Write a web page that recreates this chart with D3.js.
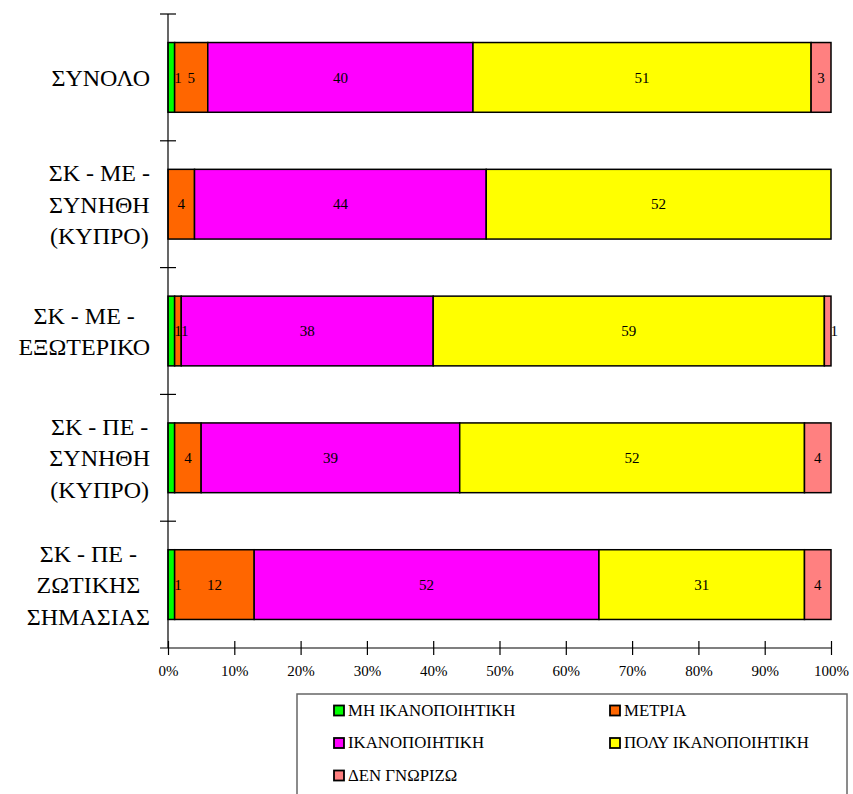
<!DOCTYPE html>
<html>
<head>
<meta charset="utf-8">
<script src="https://cdn.jsdelivr.net/npm/d3@7"></script>
<style>
  body { margin: 0; background: #fff; }
</style>
</head>
<body>
<svg id="chart" width="853" height="794"></svg>
<script>
// Survey groups (each label split into display lines)
const categories = [
  ["ΣΥΝΟΛΟ"],
  ["ΣΚ - ΜΕ -", "ΣΥΝΗΘΗ", "(ΚΥΠΡΟ)"],
  ["ΣΚ - ΜΕ -", "ΕΞΩΤΕΡΙΚΟ"],
  ["ΣΚ - ΠΕ -", "ΣΥΝΗΘΗ", "(ΚΥΠΡΟ)"],
  ["ΣΚ - ΠΕ -", "ΖΩΤΙΚΗΣ", "ΣΗΜΑΣΙΑΣ"]
];

// Response levels
const seriesNames = ["ΜΗ ΙΚΑΝΟΠΟΙΗΤΙΚΗ", "ΜΕΤΡΙΑ", "ΙΚΑΝΟΠΟΙΗΤΙΚΗ", "ΠΟΛΥ ΙΚΑΝΟΠΟΙΗΤΙΚΗ", "ΔΕΝ ΓΝΩΡΙΖΩ"];
const seriesColors = ["#00ff00", "#ff6600", "#ff00ff", "#ffff00", "#ff8080"];

// Percentages per level, one value per group
const notSatisfactory  = [1, 0, 1, 1, 1];
const moderate         = [5, 4, 1, 4, 12];
const satisfactory     = [40, 44, 38, 39, 52];
const verySatisfactory = [51, 52, 59, 52, 31];
const dontKnow         = [3, 0, 1, 4, 4];

// Value labels that are left undrawn: [group, level]
const hiddenLabels = [[3, 0]];

const xTicks = [0, 10, 20, 30, 40, 50, 60, 70, 80, 90, 100];

const seriesValues = [notSatisfactory, moderate, satisfactory, verySatisfactory, dontKnow];

const FONT = "'Liberation Serif', serif";

const svg = d3.select("#chart");
const margin = { left: 168, right: 22, top: 14, bottom: 146 };
const W = 853, H = 794;

const x = d3.scaleLinear().domain([0, 100]).range([margin.left, W - margin.right]);
const y = d3.scaleBand().domain(d3.range(categories.length))
  .range([margin.top, H - margin.bottom]).paddingInner(0.45).paddingOuter(0.225);
const yEdge = d3.scaleLinear().domain([0, categories.length]).range([margin.top, H - margin.bottom]);

// Build stacked segments
const rows = categories.map((c, i) => {
  const vals = seriesValues.map(s => s[i]);
  const total = d3.sum(vals);
  let acc = 0;
  return vals.map((v, k) => {
    const p = v / total * 100;
    const seg = { i, k, v, x0: acc, x1: acc + p };
    acc += p;
    return seg;
  });
});

const segs = rows.flat().filter(d => d.v > 0);

svg.append("g").selectAll("rect").data(segs).join("rect")
  .attr("x", d => x(d.x0))
  .attr("y", d => y(d.i))
  .attr("width", d => x(d.x1) - x(d.x0))
  .attr("height", y.bandwidth())
  .attr("fill", d => seriesColors[d.k])
  .attr("stroke", "#000")
  .attr("stroke-width", 1.5);

// Value labels (narrow segments get their label nudged right of the segment start)
const isHidden = d => hiddenLabels.some(h => h[0] === d.i && h[1] === d.k);
svg.append("g").selectAll("text").data(segs.filter(d => !isHidden(d))).join("text")
  .attr("x", d => {
    const w = x(d.x1) - x(d.x0);
    return w < 10 ? x(d.x0) + 10 : (x(d.x0) + x(d.x1)) / 2;
  })
  .attr("y", d => y(d.i) + y.bandwidth() / 2)
  .attr("dy", "0.35em")
  .attr("text-anchor", "middle")
  .style("font-family", FONT)
  .style("font-size", "15px")
  .attr("fill", "#000")
  .text(d => d.v);

// Y axis (category axis)
const axisColor = "#000";
svg.append("line")
  .attr("x1", x(0)).attr("x2", x(0))
  .attr("y1", yEdge(0)).attr("y2", yEdge(categories.length))
  .attr("stroke", axisColor).attr("stroke-width", 1.2);
svg.append("g").selectAll("line").data(d3.range(categories.length)).join("line")
  .attr("x1", x(0) - 8).attr("x2", x(0) + 8)
  .attr("y1", d => yEdge(d)).attr("y2", d => yEdge(d))
  .attr("stroke", axisColor).attr("stroke-width", 1.2);

// Category labels: each block's lines centred on one another, block flush to the axis gap
const lineH = 31.5;
const labelRight = x(0) - 18;
const catG = svg.append("g").selectAll("text").data(categories).join("text")
  .attr("text-anchor", "middle")
  .style("font-family", FONT)
  .style("font-size", "24px")
  .attr("fill", "#000");
catG.each(function(lines, i) {
  const cy = y(i) + y.bandwidth() / 2;
  const t = d3.select(this);
  const spans = lines.map((ln, j) => t.append("tspan")
    .attr("y", cy + (j - (lines.length - 1) / 2) * lineH)
    .attr("dy", "0.35em")
    .text(ln));
  const maxW = d3.max(spans, s => s.node().getComputedTextLength());
  spans.forEach(s => s.attr("x", labelRight - maxW / 2));
});

// X axis
const xAxis = d3.axisBottom(x).tickValues(xTicks).tickFormat(d => d + "%").tickSize(7).tickPadding(10);
const xg = svg.append("g")
  .attr("transform", `translate(0,${yEdge(categories.length)})`)
  .call(xAxis);
xg.select(".domain").remove();
xg.append("line").attr("x1", x(0) - 8).attr("x2", x(100)).attr("y1", 0).attr("y2", 0)
  .attr("stroke", axisColor).attr("stroke-width", 1.2);
xg.selectAll(".tick line").attr("y1", -7).attr("y2", 7).attr("stroke", axisColor).attr("stroke-width", 1.2);
xg.selectAll(".tick text")
  .style("font-family", FONT)
  .style("font-size", "15px")
  .attr("fill", "#000");

// Legend
const legend = svg.append("g");
legend.append("rect")
  .attr("x", 297).attr("y", 694).attr("width", 550).attr("height", 110)
  .attr("fill", "#fff").attr("stroke", "#666").attr("stroke-width", 1.5);
const legendPos = seriesNames.map((n, k) => ({
  name: n, k,
  lx: k % 2 === 0 ? 334 : 610,
  ly: 710 + Math.floor(k / 2) * 32.5
}));
const items = legend.selectAll("g.item").data(legendPos).join("g").attr("class", "item");
items.append("rect")
  .attr("x", d => d.lx).attr("y", d => d.ly - 4.5)
  .attr("width", 10).attr("height", 10)
  .attr("fill", d => seriesColors[d.k]).attr("stroke", "#000").attr("stroke-width", 1.8);
items.append("text")
  .attr("x", d => d.lx + 14).attr("y", d => d.ly)
  .attr("dy", "0.35em")
  .style("font-family", FONT)
  .style("font-size", "16.8px")
  .attr("fill", "#000")
  .text(d => d.name);
</script>
</body>
</html>
